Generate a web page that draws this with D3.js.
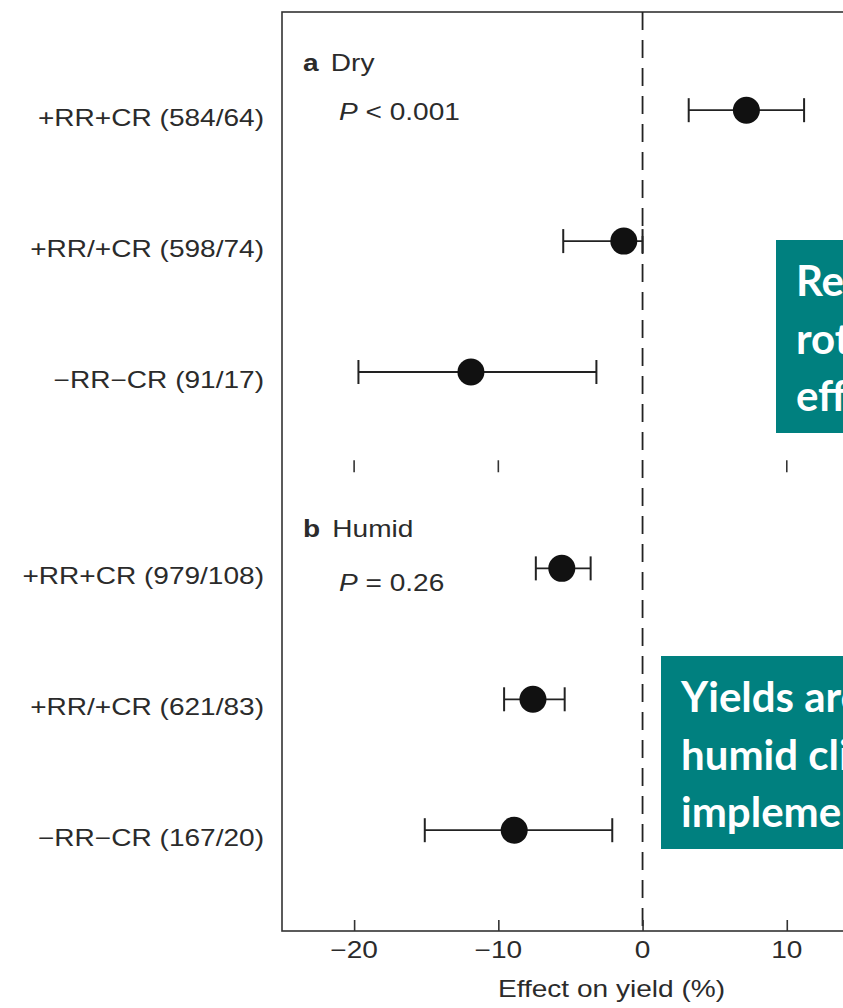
<!DOCTYPE html>
<html>
<head>
<meta charset="utf-8">
<script src="https://cdn.jsdelivr.net/npm/d3@7"></script>
<style>
  body { margin: 0; background: #fff; }
  svg { display: block; }
</style>
</head>
<body>
<svg id="chart" width="843" height="1008"></svg>
<script>
// data
const groups = ["Dry", "Humid"];
const groupLetters = ["a", "b"];
const groupP = ["< 0.001", "= 0.26"];
const categories = [
  "+RR+CR (584/64)", "+RR/+CR (598/74)", "\u2212RR\u2212CR (91/17)",
  "+RR+CR (979/108)", "+RR/+CR (621/83)", "\u2212RR\u2212CR (167/20)"
];
const rowGroup = [0, 0, 0, 1, 1, 1];
const effect = [7.2, -1.3, -11.9, -5.6, -7.6, -8.9];
const ciLow = [3.2, -5.5, -19.7, -7.4, -9.6, -15.1];
const ciHigh = [11.2, 0.0, -3.2, -3.6, -5.4, -2.1];
const xTicks = [-20, -10, 0, 10];

const noteTexts = [
  ["Residue retention and crop", "rotation have positive", "effects in dry climates"],
  ["Yields are reduced in", "humid climates when", "implementing no-till"]
];

const svg = d3.select("#chart");
const ink = "#2b2b2b";
const sx = 1.22; // the picture is stretched sideways

// row positions: each group starts half a row lower
const rows = categories.map((c, i) => ({
  label: c,
  pos: i + rowGroup[i] * 0.5,
  mean: effect[i], lo: ciLow[i], hi: ciHigh[i]
}));

const x = d3.scaleLinear().domain([-25, 20]).range([282, 931]);
const y = d3.scaleLinear().domain([-0.75, 6.27]).range([12, 931]);

function label(g, px, py, anchor) {
  return g.append("text")
    .attr("transform", `translate(${px},${py}) scale(${sx},1)`)
    .attr("text-anchor", anchor)
    .style("font-family", "'Liberation Sans', Arial, sans-serif")
    .style("font-size", "23px")
    .style("fill", ink);
}

// frame
svg.append("rect")
  .attr("x", x(-25)).attr("y", y(-0.75))
  .attr("width", x(20) - x(-25)).attr("height", y(6.27) - y(-0.75))
  .attr("fill", "none").attr("stroke", "#333").attr("stroke-width", 1.6);

// zero line
svg.append("line")
  .attr("x1", x(0)).attr("x2", x(0))
  .attr("y1", y(-0.75)).attr("y2", y(6.27))
  .attr("stroke", "#222").attr("stroke-width", 1.8)
  .attr("stroke-dasharray", "18,10");

// leftover ticks of panel a's axis
const gapY = y(2.72);
svg.selectAll(".gap-tick")
  .data(xTicks.filter(d => d !== 0))
  .enter().append("line")
  .attr("class", "gap-tick")
  .attr("x1", d => x(d)).attr("x2", d => x(d))
  .attr("y1", gapY - 6).attr("y2", gapY + 6)
  .attr("stroke", "#333").attr("stroke-width", 1.6);

// bottom axis, ticks pointing inwards
const axis = svg.append("g")
  .attr("transform", `translate(0,${y(6.27)})`)
  .call(d3.axisBottom(x).tickValues(xTicks).tickSize(-11).tickFormat(""));
axis.select(".domain").remove();
axis.selectAll("line").attr("stroke", "#333").attr("stroke-width", 1.6);

xTicks.forEach(t => {
  label(svg, x(t), y(6.27) + 27, "middle").text(d3.format("")(t));
});
label(svg, (x(-25) + x(20)) / 2 + 5, 997, "middle").text("Effect on yield (%)");

// whiskers
const w = svg.append("g");
w.selectAll(".ci")
  .data(rows).enter().append("line")
  .attr("x1", d => x(d.lo)).attr("x2", d => x(d.hi))
  .attr("y1", d => y(d.pos)).attr("y2", d => y(d.pos))
  .attr("stroke", "#222").attr("stroke-width", 1.8);
["lo", "hi"].forEach(k => {
  w.selectAll(".cap-" + k)
    .data(rows).enter().append("line")
    .attr("x1", d => x(d[k])).attr("x2", d => x(d[k]))
    .attr("y1", d => y(d.pos) - 12).attr("y2", d => y(d.pos) + 12)
    .attr("stroke", "#222").attr("stroke-width", 2);
});

// points
svg.selectAll(".pt")
  .data(rows).enter().append("circle")
  .attr("cx", d => x(d.mean)).attr("cy", d => y(d.pos))
  .attr("r", 13.5).attr("fill", "#111");

// row labels
rows.forEach(d => {
  label(svg, 264, y(d.pos) + 16, "end").text(d.label);
});

// panel headings
const headY = [71, 537];
const pY = [120, 591];
groups.forEach((g, i) => {
  const t = label(svg, 303, headY[i], "start");
  t.append("tspan").style("font-weight", "bold").text(groupLetters[i]);
  t.append("tspan").attr("dx", 10).text(g);
  const p = label(svg, 339, pY[i], "start");
  p.append("tspan").style("font-style", "italic").text("P");
  p.append("tspan").text(" " + groupP[i]);
});

// teal note boxes
const boxes = [{ x: 776, y: 240, h: 193 }, { x: 661, y: 656, h: 193 }];
boxes.forEach((b, i) => {
  svg.append("rect")
    .attr("x", b.x).attr("y", b.y)
    .attr("width", 843 - b.x + 10).attr("height", b.h)
    .attr("fill", "#00807f");
  noteTexts[i].forEach((line, j) => {
    svg.append("text")
      .attr("x", b.x + 20).attr("y", b.y + 56 + j * 57.5)
      .style("font-family", "Lato, 'Open Sans', sans-serif")
      .style("font-weight", "bold")
      .style("font-size", "42px")
      .style("fill", "#fff")
      .text(line);
  });
});
</script>
</body>
</html>
